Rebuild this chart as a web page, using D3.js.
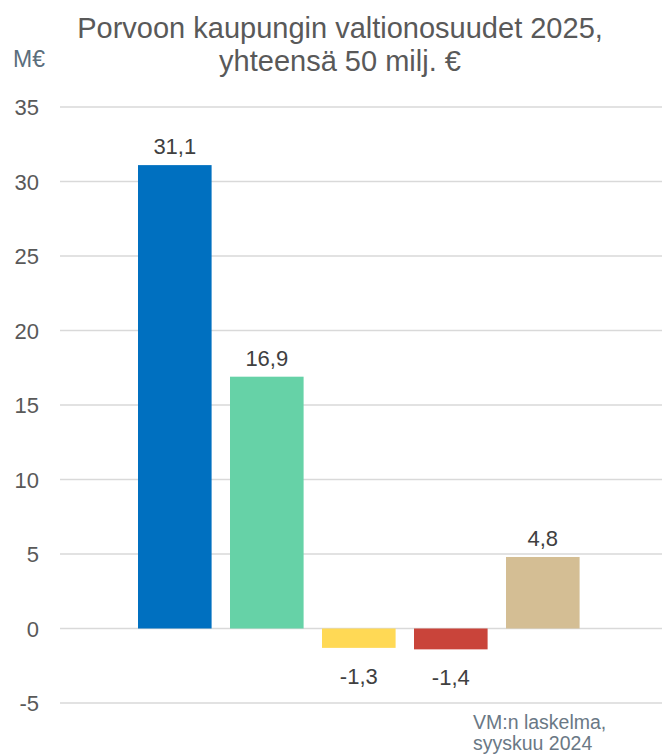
<!DOCTYPE html>
<head>
  <meta charset="utf-8">
  <script src="https://cdn.jsdelivr.net/npm/d3@7"></script>
  <style>
    body { margin: 0; background: #fff; }
    text { font-family: "Liberation Sans", Arial, sans-serif; }
  </style>
</head>
<body>
<svg width="665" height="756"></svg>
<script>
var categories = ['a', 'b', 'c', 'd', 'e']
var values = [31.1, 16.9, -1.3, -1.4, 4.8]
var colors = ['#0070c0', '#66d2a7', '#ffd955', '#c9443a', '#d4be94']
var ticks = [-5, 0, 5, 10, 15, 20, 25, 30, 35]

var svg = d3.select('svg')

var y = d3.scaleLinear().domain([-5, 35]).range([703, 107])
var x = d3.scaleBand().domain(categories).range([128.8, 588.8])
          .paddingInner(0.2).paddingOuter(0.1)

var fmt = function (v) { return String(v).replace('.', ',') }

// grid
svg.append('g').selectAll('line').data(ticks).enter().append('line')
  .attr('x1', 60).attr('x2', 662)
  .attr('y1', function (d) { return y(d) }).attr('y2', function (d) { return y(d) })
  .attr('stroke', '#d9d9d9').attr('stroke-width', 1.5)

svg.append('g').selectAll('text').data(ticks).enter().append('text')
  .attr('x', 39).attr('y', function (d) { return y(d) + 8 })
  .attr('text-anchor', 'end').attr('font-size', 22).attr('fill', '#595959')
  .text(function (d) { return d })

// bars
svg.append('g').selectAll('rect').data(values).enter().append('rect')
  .attr('x', function (d, i) { return x(categories[i]) })
  .attr('width', x.bandwidth())
  .attr('y', function (d) { return y(Math.max(0, d)) })
  .attr('height', function (d) { return Math.abs(y(d) - y(0)) })
  .attr('fill', function (d, i) { return colors[i] })

svg.append('g').selectAll('text').data(values).enter().append('text')
  .attr('x', function (d, i) { return x(categories[i]) + x.bandwidth() / 2 })
  .attr('y', function (d) { return d >= 0 ? y(d) - 11 : y(d) + 36 })
  .attr('text-anchor', 'middle').attr('font-size', 22).attr('fill', '#404040')
  .text(fmt)

// title
var title = svg.append('text').attr('text-anchor', 'middle').attr('font-size', 29).attr('fill', '#595959')
title.append('tspan').attr('x', 340).attr('y', 38).text('Porvoon kaupungin valtionosuudet 2025,')
title.append('tspan').attr('x', 340).attr('y', 71).text('yhteensä 50 milj. €')

svg.append('text').attr('x', 13).attr('y', 67).attr('font-size', 23).attr('fill', '#5b6e7c').text('M€')

var src = svg.append('text').attr('font-size', 19.5).attr('fill', '#6a7885')
src.append('tspan').attr('x', 473).attr('y', 729).text('VM:n laskelma,')
src.append('tspan').attr('x', 473).attr('y', 750).text('syyskuu 2024')
</script>
</body>
